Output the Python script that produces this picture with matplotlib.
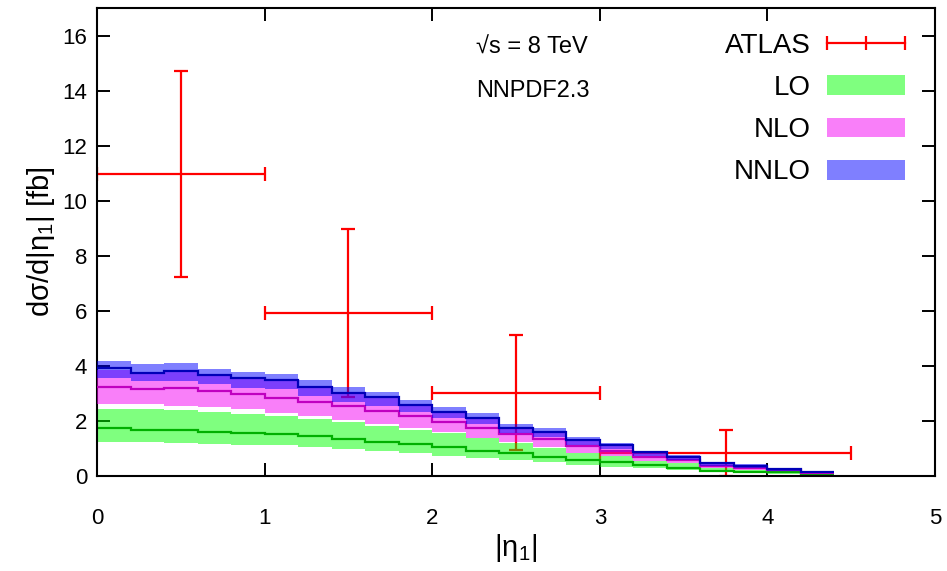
import numpy as np
import matplotlib.pyplot as plt
from matplotlib.patches import Patch
from matplotlib.lines import Line2D
from matplotlib.legend_handler import HandlerLine2D

plt.rcParams['font.family'] = ['Liberation Sans', 'DejaVu Sans']
plt.rcParams['mathtext.fontset'] = 'custom'
plt.rcParams['mathtext.rm'] = 'Liberation Sans'
plt.rcParams['mathtext.it'] = 'Liberation Sans'

# bin edges in |eta_1|, width 0.2
edges = np.round(np.arange(0, 4.41, 0.2), 2)

# NNLO: central, scale band upper / lower
nnlo = [3.91, 3.73, 3.83, 3.67, 3.58, 3.49, 3.25, 3.02, 2.86, 2.58, 2.34,
        2.12, 1.76, 1.61, 1.31, 1.13, 0.86, 0.70, 0.46, 0.38, 0.25, 0.13]
nnlo_hi = [4.19, 4.06, 4.12, 3.90, 3.79, 3.72, 3.49, 3.25, 3.07, 2.76, 2.50,
           2.28, 1.88, 1.76, 1.41, 1.21, 0.92, 0.76, 0.51, 0.42, 0.29, 0.16]
nnlo_lo = [3.55, 3.45, 3.45, 3.33, 3.21, 3.16, 2.92, 2.70, 2.55, 2.34, 2.10,
           1.88, 1.55, 1.41, 1.13, 0.97, 0.73, 0.58, 0.38, 0.30, 0.19, 0.10]

# NLO
nlo = [3.22, 3.15, 3.19, 3.08, 2.97, 2.85, 2.70, 2.56, 2.38, 2.17, 1.95,
       1.76, 1.52, 1.35, 1.09, 0.92, 0.70, 0.58, 0.36, 0.28, 0.22, 0.11]
nlo_hi = [3.87, 3.72, 3.79, 3.64, 3.55, 3.45, 3.22, 2.98, 2.83, 2.55, 2.32,
          2.10, 1.74, 1.59, 1.29, 1.10, 0.84, 0.68, 0.44, 0.34, 0.24, 0.13]
nlo_lo = [2.63, 2.61, 2.55, 2.51, 2.42, 2.30, 2.19, 2.05, 1.89, 1.73, 1.61,
          1.39, 1.22, 1.05, 0.85, 0.73, 0.56, 0.46, 0.28, 0.22, 0.18, 0.09]

# LO
lo = [1.73, 1.69, 1.66, 1.61, 1.56, 1.53, 1.44, 1.36, 1.25, 1.16, 1.04,
      0.92, 0.82, 0.70, 0.58, 0.50, 0.40, 0.30, 0.19, 0.16, 0.14, 0.08]
lo_hi = [2.44, 2.42, 2.40, 2.32, 2.25, 2.19, 2.07, 1.98, 1.82, 1.69, 1.55,
         1.37, 1.19, 1.03, 0.82, 0.73, 0.56, 0.46, 0.28, 0.22, 0.17, 0.10]
lo_lo = [1.22, 1.22, 1.19, 1.18, 1.14, 1.13, 1.05, 0.98, 0.91, 0.85, 0.74,
         0.64, 0.58, 0.50, 0.40, 0.34, 0.28, 0.22, 0.13, 0.10, 0.08, 0.05]

# ATLAS measurement
atlas_x = [0.5, 1.5, 2.5, 3.75]
atlas_xlo = [0.0, 1.0, 2.0, 3.0]
atlas_xhi = [1.0, 2.0, 3.0, 4.5]
atlas_y = [11.0, 5.94, 3.03, 0.84]
atlas_ylo = [7.25, 2.88, 0.95, 0.0]
atlas_yhi = [14.74, 9.0, 5.12, 1.66]

fig = plt.figure(figsize=(9.47, 5.71), dpi=100)
ax = fig.add_axes([97 / 947, 95 / 571, 838 / 947, 468 / 571])

xerr = [np.subtract(atlas_x, atlas_xlo), np.subtract(atlas_xhi, atlas_x)]
yerr = [np.subtract(atlas_y, atlas_ylo), np.subtract(atlas_yhi, atlas_y)]
ax.errorbar(atlas_x, atlas_y, xerr=xerr, yerr=yerr, fmt='none', ecolor='#ff0000',
            elinewidth=1.6, capsize=5, capthick=1.6, zorder=1)

bands = [
    (lo, lo_lo, lo_hi, (0.0, 1.0, 0.0, 0.5), '#00b000'),
    (nlo, nlo_lo, nlo_hi, (0.96, 0.0, 0.96, 0.5), '#c000c0'),
    (nnlo, nnlo_lo, nnlo_hi, (0.0, 0.0, 1.0, 0.5), '#0000b8'),
]
for i, (c, lo_, hi_, fc, lc) in enumerate(bands):
    ax.stairs(hi_, edges, baseline=lo_, fill=True, facecolor=fc,
              edgecolor='none', zorder=2 + i)
    ax.stairs(c, edges, baseline=None, color=lc, linewidth=1.6, zorder=2.5 + i)

ax.set_xlim(0, 5)
ax.set_ylim(0, 17.02)
ax.set_xticks(range(0, 6))
ax.set_yticks(range(0, 17, 2))
ax.tick_params(direction='in', length=9.5, width=1.4, top=True, right=True,
               labelsize=16, colors='black')
ax.tick_params(axis='x', pad=23)
ax.tick_params(axis='y', pad=7)
for s in ax.spines.values():
    s.set_linewidth(1.5)

ax.set_xlabel(r'$\mathrm{|\eta_1|}$', fontsize=21, labelpad=2)
ax.set_ylabel(r'$\mathrm{d\sigma/d|\eta_1|\ [fb]}$', fontsize=21, labelpad=4)

ax.text(2.26, 15.56, '√s = 8 TeV', fontsize=17, va='center', ha='left')
ax.text(2.26, 14.0, 'NNPDF2.3', fontsize=17, va='center', ha='left')

# ATLAS key: line with ticks at both ends and the middle
atlas_key = Line2D([], [], color='#ff0000', lw=1.6, marker='|', markersize=10,
                   markeredgewidth=1.6)
handles = [
    atlas_key,
    Patch(facecolor=(0.0, 1.0, 0.0, 0.5), edgecolor='none'),
    Patch(facecolor=(0.96, 0.0, 0.96, 0.5), edgecolor='none'),
    Patch(facecolor=(0.0, 0.0, 1.0, 0.5), edgecolor='none'),
]
ax.legend(handles, ['ATLAS', 'LO', 'NLO', 'NNLO'], loc='upper right',
          bbox_to_anchor=(0.994, 1.0), frameon=False, markerfirst=False,
          numpoints=3, fontsize=20, handlelength=2.8, handleheight=0.72,
          labelspacing=0.58, handletextpad=0.6,
          handler_map={atlas_key: HandlerLine2D(marker_pad=0)})

fig.savefig('out.png', dpi=100)
